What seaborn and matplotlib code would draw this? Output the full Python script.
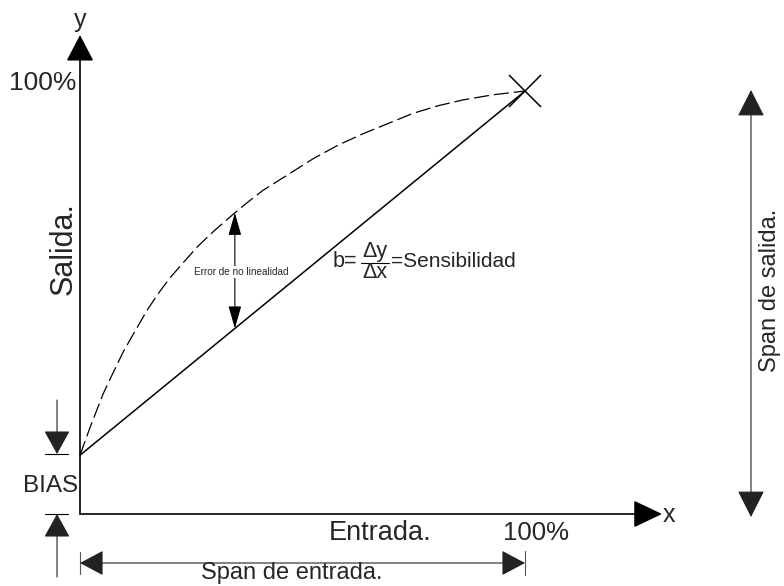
import matplotlib
matplotlib.use("Agg")
import matplotlib.pyplot as plt
from matplotlib.transforms import Affine2D
import seaborn as sns

# ----------------------
# Data (percent of span)
# ----------------------
entrada_pct = [0, 2.2, 5.2, 7.4, 9.7, 12.4, 15.1, 17.5, 20.2, 23.1, 26.3, 30.3, 34.8,
               37.8, 41.1, 46.7, 52.4, 58.0, 63.6, 69.2, 74.8, 80.4, 86.1, 92.8, 100]
salida_real = [13.9, 20.3, 28.4, 33.3, 38.3, 43.3, 48.2, 52.0, 55.8, 59.3, 63.1, 67.1, 71.2,
               73.8, 76.5, 80.2, 84.0, 87.2, 89.9, 92.3, 94.7, 96.5, 97.9, 99.1, 100]
entrada_lineal = [0, 100]
salida_lineal = [13.9, 100]
bias = 13.9
x_error = 34.8

# ----------------------
# Layout (pixels of the 784x586 canvas)
# ----------------------
W, H = 784, 586
ORIGIN_PX = (80, 514)
PX_PER_X = 4.45
PX_PER_Y = 4.23

sns.set_theme(style="white")
plt.rcParams["font.family"] = ["Liberation Sans", "DejaVu Sans"]

fig = plt.figure(figsize=(W / 100, H / 100), dpi=100)
ax = fig.add_axes([0, 0, 1, 1])
ax.set_xlim(-ORIGIN_PX[0] / PX_PER_X, (W - ORIGIN_PX[0]) / PX_PER_X)
ax.set_ylim(-(H - ORIGIN_PX[1]) / PX_PER_Y, ORIGIN_PX[1] / PX_PER_Y)
ax.set_axis_off()

# pixel coords, origin top-left
pix = Affine2D().scale(1 / W, -1 / H).translate(0, 1) + fig.transFigure


def arrow(p0, p1, style, hl, hw, color="black", lw=1.0, coords=None):
    coords = coords or pix
    ax.annotate("", xy=p1, xytext=p0, xycoords=coords, textcoords=coords,
                arrowprops=dict(arrowstyle=f"{style},head_length={hl},head_width={hw}",
                                color=color, lw=lw, shrinkA=0, shrinkB=0,
                                mutation_scale=1))


def hline(x0, x1, y, color="#555555", lw=0.8):
    ax.plot([x0, x1], [y, y], transform=pix, color=color, lw=lw)


def vline(x, y0, y1, color="#555555", lw=0.8):
    ax.plot([x, x], [y0, y1], transform=pix, color=color, lw=lw)


# curves
sns.lineplot(x=entrada_pct, y=salida_real, ax=ax, color="black", lw=0.9,
             linestyle=(0, (12, 4)))
sns.lineplot(x=entrada_lineal, y=salida_lineal, ax=ax, color="black", lw=1.1)
ax.plot([entrada_lineal[-1]], [salida_lineal[-1]], marker="x", color="black",
        markersize=23, mew=1.1)

# axes with arrow heads
arrow(ORIGIN_PX, (80, 35), "-|>", 16.5, 8.6, lw=1.2)
arrow(ORIGIN_PX, (662, 514), "-|>", 18, 8.6, lw=1.2)

# non-linearity error arrow
err_low = bias + x_error / 100 * (salida_lineal[-1] - bias)
err_high = salida_real[entrada_pct.index(x_error)]
arrow((x_error, err_low), (x_error, err_high), "<|-|>", 14, 4, lw=0.8,
      coords=ax.transData)
ax.text(241, 272, "Error de no linealidad", transform=pix, fontsize=7.2,
        ha="center", va="center",
        bbox=dict(boxstyle="square,pad=0.1", fc="white", ec="none"))

# span de salida
arrow((751, 90), (751, 517), "<|-|>", 17, 8.6, color="#222222", lw=0.8)
ax.text(770, 290, "Span de salida.", transform=pix, fontsize=17,
        rotation=90, ha="center", va="center")

# span de entrada
arrow((80, 563), (525, 563), "<|-|>", 15, 8, color="#222222", lw=0.8)
vline(80, 552, 574)
vline(525, 551, 575)
ax.text(292, 579, "Span de entrada.", transform=pix, fontsize=17,
        ha="center", va="baseline")

# BIAS arrows
arrow((57, 400), (57, 454), "-|>", 15, 8.3, color="#222222", lw=0.8)
hline(45, 68, 454, color="black")
arrow((57, 577), (57, 514), "-|>", 15, 8.3, color="#222222", lw=0.8)
hline(45, 68, 514, color="black")
ax.text(78, 492, "BIAS", transform=pix, fontsize=17.5, ha="right", va="baseline")

# axis labels
ax.text(80, 27, "y", transform=pix, fontsize=18, ha="center", va="baseline")
ax.text(663, 522, "x", transform=pix, fontsize=18, ha="left", va="baseline")
ax.text(76, 90, "100%", transform=pix, fontsize=19, ha="right", va="baseline")
ax.text(536, 540, "100%", transform=pix, fontsize=18.5, ha="center", va="baseline")
ax.text(380, 540, "Entrada.", transform=pix, fontsize=19.5, ha="center", va="baseline")
ax.text(64, 249, "Salida.", transform=pix, fontsize=22, rotation=90,
        ha="center", va="center")

# sensitivity formula
ax.text(333, 267, "b=", transform=pix, fontsize=15.5, ha="left", va="baseline")
ax.text(375, 257, "Δy", transform=pix, fontsize=15.5, ha="center", va="baseline")
ax.text(375, 278, "Δx", transform=pix, fontsize=15.5, ha="center", va="baseline")
hline(361, 389, 263, color="black", lw=0.8)
ax.text(391, 267, "=Sensibilidad", transform=pix, fontsize=15, ha="left", va="baseline")

fig.savefig("out.png", dpi=100)
